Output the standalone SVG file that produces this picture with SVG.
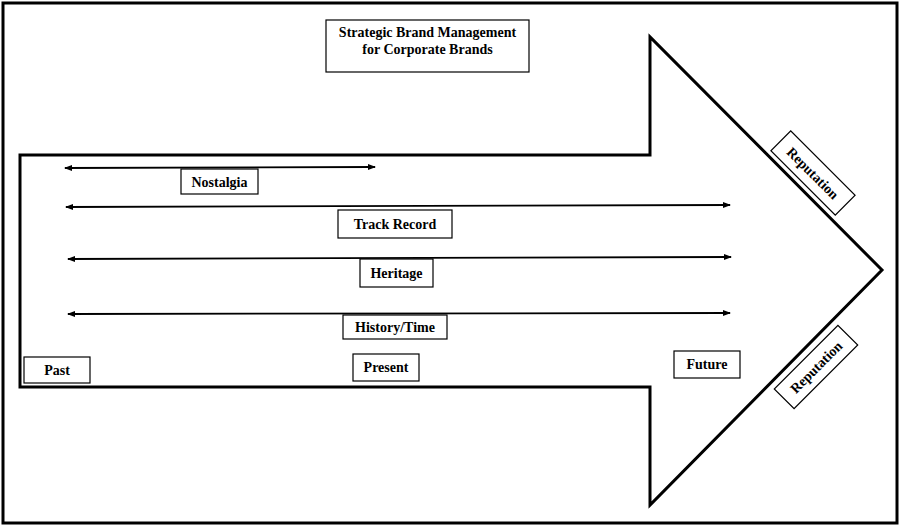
<svg xmlns="http://www.w3.org/2000/svg" width="900" height="526" viewBox="0 0 900 526">
  <style>
    .frame { fill: #fff; stroke: #000; stroke-width: 3; }
    .arrow-shape { fill: #fff; stroke: #000; stroke-width: 3; stroke-linejoin: miter; }
    .box { fill: #fff; stroke: #000; stroke-width: 1.2; }
    .label { font-family: "Liberation Serif", "Times New Roman", serif; font-weight: bold; font-size: 14px; fill: #000; text-anchor: middle; }
    .span { stroke: #000; stroke-width: 1.8; fill: none; marker-start: url(#head); marker-end: url(#head); }
  </style>
  <defs>
    <marker id="head" viewBox="0 0 8 8" refX="7" refY="4" markerWidth="8" markerHeight="8" markerUnits="userSpaceOnUse" orient="auto-start-reverse">
      <path d="M0,1 L8,4 L0,7 Z" fill="#000"/>
    </marker>
  </defs>

  <!-- outer frame -->
  <rect class="frame" x="3" y="3" width="894" height="520"/>

  <!-- large timeline arrow -->
  <polygon class="arrow-shape" points="20,155 650,155 650,37 882,270 650,505 650,387 20,387"/>

  <!-- time spans -->
  <g id="connectors">
    <line class="span" x1="65" y1="168" x2="375" y2="167"/>
    <line class="span" x1="66" y1="207" x2="730" y2="205"/>
    <line class="span" x1="68" y1="259" x2="731" y2="257"/>
    <line class="span" x1="68" y1="314" x2="730" y2="313"/>
  </g>

  <g id="title">
    <rect class="box" x="326" y="20" width="203" height="52"/>
    <text class="label" x="427.5" y="37">Strategic Brand Management</text>
    <text class="label" x="427.5" y="54">for Corporate Brands</text>
  </g>

  <g id="nostalgia">
    <rect class="box" x="181" y="169" width="77" height="25"/>
    <text class="label" x="219.5" y="186.5">Nostalgia</text>
  </g>

  <g id="track-record">
    <rect class="box" x="338" y="210" width="114" height="28"/>
    <text class="label" x="395" y="228.5">Track Record</text>
  </g>

  <g id="heritage">
    <rect class="box" x="360" y="259" width="73" height="28"/>
    <text class="label" x="396.5" y="277.5">Heritage</text>
  </g>

  <g id="history-time">
    <rect class="box" x="343" y="315" width="104" height="24"/>
    <text class="label" x="395" y="331.5">History/Time</text>
  </g>

  <g id="past">
    <rect class="box" x="24" y="357" width="66" height="26"/>
    <text class="label" x="57" y="374.5">Past</text>
  </g>

  <g id="present">
    <rect class="box" x="353" y="354" width="66" height="27"/>
    <text class="label" x="386" y="372">Present</text>
  </g>

  <g id="future">
    <rect class="box" x="674" y="351" width="66" height="27"/>
    <text class="label" x="707" y="369">Future</text>
  </g>

  <g id="reputation-upper" transform="translate(813,173) rotate(45)">
    <rect class="box" x="-45.5" y="-14" width="91" height="28"/>
    <text class="label" x="0" y="5">Reputation</text>
  </g>

  <g id="reputation-lower" transform="translate(816,367) rotate(-45)">
    <rect class="box" x="-45" y="-14" width="90" height="28"/>
    <text class="label" x="0" y="5">Reputation</text>
  </g>
</svg>
